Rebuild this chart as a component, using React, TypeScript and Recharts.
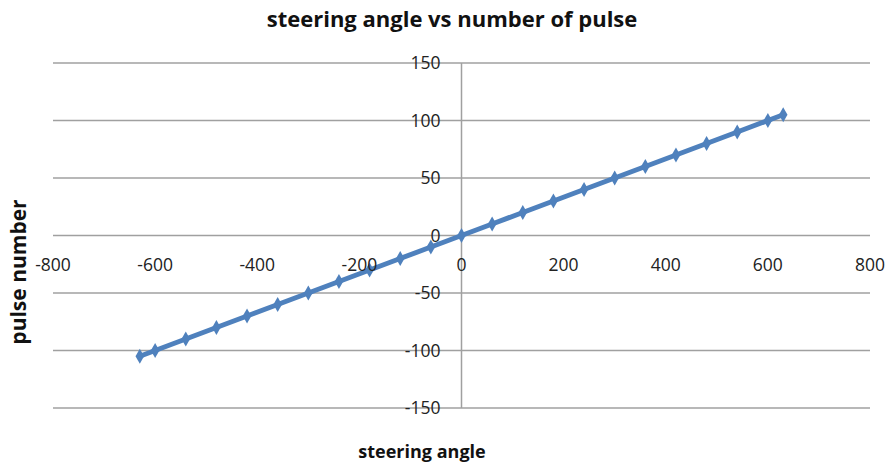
import React from "react";
import {
  ScatterChart,
  Scatter,
  XAxis,
  YAxis,
  CartesianGrid,
  ReferenceLine,
} from "recharts";

const steeringAngles = [
  -630, -600, -540, -480, -420, -360, -300, -240, -180, -120, -60, 0, 60, 120,
  180, 240, 300, 360, 420, 480, 540, 600, 630,
];
const pulseNumbers = [
  -105, -100, -90, -80, -70, -60, -50, -40, -30, -20, -10, 0, 10, 20, 30, 40,
  50, 60, 70, 80, 90, 100, 105,
];
const xTicks = [-800, -600, -400, -200, 0, 200, 400, 600, 800];
const yTicks = [-150, -100, -50, 0, 50, 100, 150];

const W = 887;
const H = 465;
const PLOT_LEFT = 53;
const PLOT_RIGHT = 870;
const PLOT_TOP = 63;
const PLOT_BOTTOM = 408;
const ZERO_X = (PLOT_LEFT + PLOT_RIGHT) / 2;
const ZERO_Y = (PLOT_TOP + PLOT_BOTTOM) / 2;

const FONT = "'Open Sans', 'Noto Sans', sans-serif";
const BLUE = "#4F81BD";
const GRID = "#a0a0a0";

const data = steeringAngles.map((a, i) => ({ angle: a, pulse: pulseNumbers[i] }));

function XTick(props: any) {
  const { x, payload } = props;
  return (
    <text
      x={x}
      y={ZERO_Y + 35}
      textAnchor="middle"
      fontSize={17.5}
      fontFamily={FONT}
      fill="#222"
    >
      {payload.value}
    </text>
  );
}

function YTick(props: any) {
  const { y, payload } = props;
  return (
    <text
      x={ZERO_X - 21}
      y={y + 6}
      textAnchor="end"
      fontSize={17.5}
      fontFamily={FONT}
      fill="#222"
    >
      {payload.value}
    </text>
  );
}

export default function App() {
  return (
    <div
      style={{
        position: "absolute",
        left: 0,
        top: 0,
        width: W,
        height: H,
        background: "#fff",
        fontFamily: FONT,
      }}
    >
      <div
        style={{
          position: "absolute",
          left: 0,
          width: 904,
          top: 3,
          textAlign: "center",
          fontWeight: 700,
          fontSize: 22,
          color: "#111",
        }}
      >
        steering angle vs number of pulse
      </div>
      <div
        style={{
          position: "absolute",
          left: 18,
          top: 272,
          transform: "translate(-50%, -50%) rotate(-90deg)",
          fontWeight: 700,
          fontSize: 21,
          whiteSpace: "nowrap",
          color: "#111",
        }}
      >
        pulse number
      </div>
      <div
        style={{
          position: "absolute",
          left: 0,
          width: 844,
          top: 439,
          textAlign: "center",
          fontWeight: 700,
          fontSize: 18,
          color: "#111",
        }}
      >
        steering angle
      </div>
      <ScatterChart
        width={W}
        height={H}
        margin={{
          top: PLOT_TOP,
          right: W - PLOT_RIGHT,
          left: PLOT_LEFT - 1,
          bottom: H - PLOT_BOTTOM - 1,
        }}
        style={{ position: "absolute", left: 0, top: 0 }}
      >
        <CartesianGrid horizontal vertical={false} stroke={GRID} strokeWidth={1.5} />
        <XAxis
          type="number"
          dataKey="angle"
          domain={[-800, 800]}
          ticks={xTicks}
          height={1}
          axisLine={false}
          tickLine={false}
          tick={<XTick />}
          interval={0}
        />
        <YAxis
          type="number"
          dataKey="pulse"
          domain={[-150, 150]}
          ticks={yTicks}
          width={1}
          axisLine={false}
          tickLine={false}
          tick={<YTick />}
          interval={0}
        />
        <ReferenceLine x={0} stroke={GRID} strokeWidth={1.5} />
        <Scatter
          data={data}
          fill={BLUE}
          line={{ stroke: BLUE, strokeWidth: 5 }}
          shape="diamond"
          size={32}
          isAnimationActive={false}
        />
      </ScatterChart>
    </div>
  );
}
